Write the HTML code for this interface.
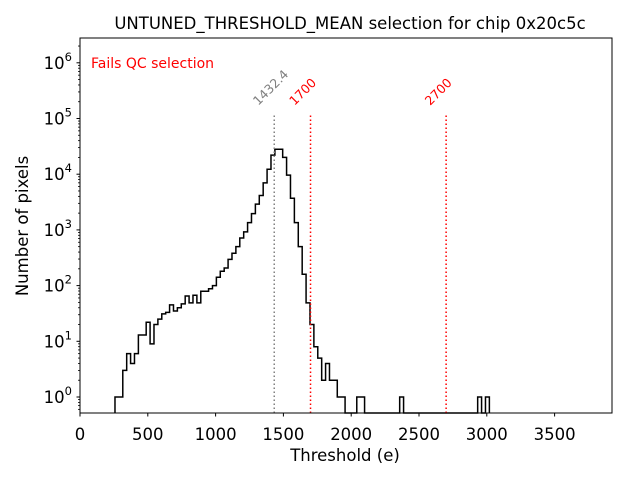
<!DOCTYPE html>
<html><head><meta charset="utf-8"><style>
html,body{margin:0;padding:0;background:#fff;}
svg{display:block;font-family:"DejaVu Sans","Liberation Sans",sans-serif;}
</style></head><body>
<svg id="chart" width="640" height="480" viewBox="0 0 640 480">
<rect width="640" height="480" fill="#fff"/>
<text x="350" y="29" font-size="16.5" text-anchor="middle">UNTUNED_THRESHOLD_MEAN selection for chip 0x20c5c</text>
<text x="345" y="461" font-size="16.5" text-anchor="middle">Threshold (e)</text>
<text x="28" y="226" font-size="16.5" text-anchor="middle" transform="rotate(-90 28 226)">Number of pixels</text>
<text x="91" y="68" font-size="14" fill="red">Fails QC selection</text>
<g id="ticks"></g>
<path id="hist" fill="none" stroke="#000" stroke-width="1.5"/>
<g id="vlines"></g>
<rect x="80" y="38" width="532" height="375" fill="none" stroke="#000" stroke-width="1"/>
</svg>
<script>
const binStart = 258;
const binWidth = 28.76;
const counts = [1,1,3,6,4,6,13,13,22,9,20,25,31,33,45,35,40,47,65,49,67,49,79,79,88,100,141,181,207,295,380,500,715,920,1350,1960,2900,4140,7000,12300,22000,28000,28000,20000,9600,3700,1350,500,160,49,20,8,5,2,4,2,2,1,1,0,0,0,1,1,0,0,0,0,0,0,0,0,0,1,0,0,0,0,0,0,0,0,0,0,0,0,0,0,0,0,0,0,0,1,0,1];
const xTicks = [0,500,1000,1500,2000,2500,3000,3500];
const yExps = [0,1,2,3,4,5,6];
const lineValues = [1432.4,1700,2700];
const lineLabels = ["1432.4","1700","2700"];
const lineColors = ["gray","red","red"];

const NS = "http://www.w3.org/2000/svg";
const X = v => 80 + v*0.1356;
const Y = c => 397 - 55.7*Math.log10(c);
const BOT = 413;
const tg = document.getElementById('ticks');
function mk(tag, attrs, parent){const e=document.createElementNS(NS,tag);for(const k in attrs)e.setAttribute(k,attrs[k]);parent.appendChild(e);return e;}

xTicks.forEach(v=>{
  const t=mk('line',{x1:X(v),x2:X(v),y1:BOT,y2:BOT+3.5,stroke:'#000'},tg);
  
  
  const l=mk('text',{x:X(v),y:BOT+27,'font-size':16.5,'text-anchor':'middle'},tg);
  l.textContent=v;
  
  
});
yExps.forEach(e=>{
  const y=Y(Math.pow(10,e));
  const t=mk('line',{x1:80,x2:76.5,y1:y,y2:y,stroke:'#000'},tg);
  
  
  const l=mk('text',{x:72,y:y+6,'font-size':16.5,'text-anchor':'end'},tg);
  l.innerHTML='10<tspan dy="-8" font-size="11.5">'+e+'</tspan>';
  
  
});
for(let e=-1;e<=6;e++){for(let m=2;m<=9;m++){
  const y=Y(m*Math.pow(10,e));
  if(y<38||y>413)continue;
  const t=mk('line',{x1:80,x2:78,y1:y,y2:y,stroke:'#000','stroke-width':0.8},tg);
  
  
}}

let d='';
counts.forEach((c,i)=>{
  const x0=X(binStart+i*binWidth), x1=X(binStart+(i+1)*binWidth);
  const y=c>0?Y(c):BOT;
  if(i===0)d+='M'+x0+','+BOT;
  d+=' L'+x0+','+y+' L'+x1+','+y;
});
d+=' L'+X(binStart+counts.length*binWidth)+','+BOT;
document.getElementById('hist').setAttribute('d',d);

const vg=document.getElementById('vlines');
lineValues.forEach((v,i)=>{
  const x=X(v);
  const l=mk('line',{x1:x,x2:x,y1:BOT,y2:113,stroke:lineColors[i],'stroke-width':1.5,'stroke-dasharray':'1.5,2.5'},vg);
  
  
  const t=mk('text',{x:x-16,y:106,'font-size':12.5,fill:lineColors[i],transform:'rotate(-45 '+(x-16)+' 106)'},vg);
  t.textContent=lineLabels[i];
  
  
});
</script>
</body></html>
